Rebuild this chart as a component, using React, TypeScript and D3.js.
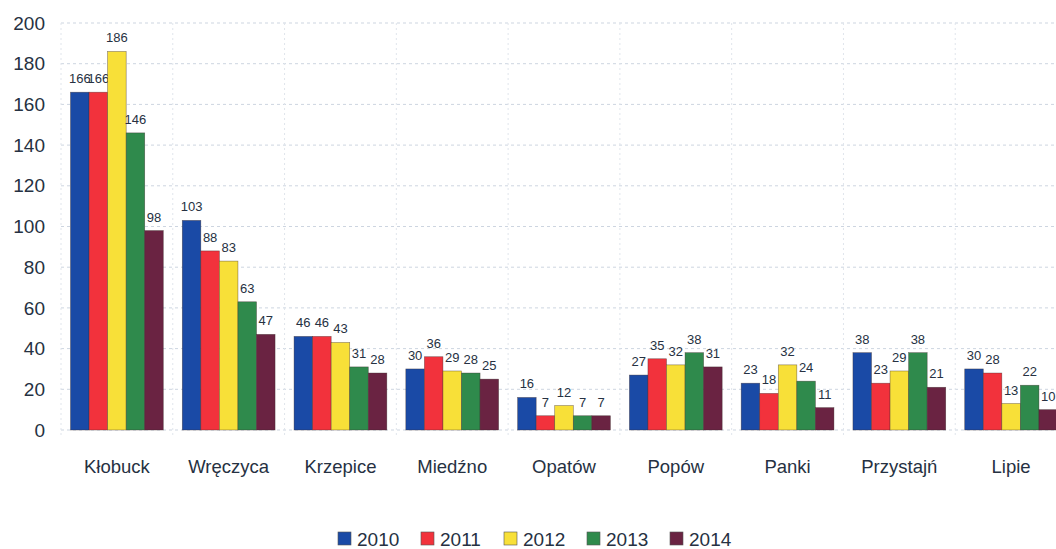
import React from "react";
import * as d3 from "d3";

const categories = ["Kłobuck", "Wręczyca", "Krzepice", "Miedźno", "Opatów", "Popów", "Panki", "Przystajń", "Lipie"];
const seriesNames = ["2010", "2011", "2012", "2013", "2014"];
const v2010 = [166, 103, 46, 30, 16, 27, 23, 38, 30];
const v2011 = [166, 88, 46, 36, 7, 35, 18, 23, 28];
const v2012 = [186, 83, 43, 29, 12, 32, 32, 29, 13];
const v2013 = [146, 63, 31, 28, 7, 38, 24, 38, 22];
const v2014 = [98, 47, 28, 25, 7, 31, 11, 21, 10];
const yTicks = [0, 20, 40, 60, 80, 100, 120, 140, 160, 180, 200];

const seriesValues = [v2010, v2011, v2012, v2013, v2014];
const colors = ["#1a4aa6", "#f2323c", "#f8e038", "#2f8a4c", "#6a2342"];

const W = 1056, H = 549;
const left = 61, right = 1067, top = 23, bottom = 430;

export default function App() {
  const x = d3.scaleBand<string>().domain(categories).range([left, right]).paddingInner(0.17).paddingOuter(0.085);
  const xs = d3.scaleBand<string>().domain(seriesNames).range([0, x.bandwidth()]);
  const y = d3.scaleLinear().domain([0, 200]).range([bottom, top]);
  const font = "Arial, 'Liberation Sans', sans-serif";
  const textColor = "#263142";
  const step = x.step();

  return (
    <div style={{ position: "fixed", left: 0, top: 0, width: W, height: H, background: "#fff" }}>
      <svg width={W} height={H} style={{ display: "block" }} fontFamily={font}>
        {yTicks.map((t) => (
          <g key={t}>
            <line x1={left} x2={W} y1={y(t)} y2={y(t)} stroke="#cdd5e0" strokeDasharray="3,3" strokeWidth={1} />
            <text x={45} y={y(t)} dy="0.35em" textAnchor="end" fontSize={19} fill={textColor}>{t}</text>
          </g>
        ))}
        {categories.map((c, i) => (
          <line key={"v" + c} x1={left + i * step} x2={left + i * step} y1={top} y2={bottom + 6} stroke="#e0e5ec" strokeDasharray="2,3" />
        ))}
        {categories.map((c, ci) => (
          <g key={c}>
            {seriesNames.map((s, si) => {
              const v = seriesValues[si][ci];
              const bx = (x(c) as number) + (xs(s) as number);
              return (
                <g key={s}>
                  <rect x={bx} y={y(v)} width={xs.bandwidth()} height={bottom - y(v)} fill={colors[si]} stroke="#3a2a2a" strokeWidth={0.6} strokeOpacity={0.6} />
                  <text x={bx + xs.bandwidth() / 2} y={y(v) - 9} textAnchor="middle" fontSize={13} fill={textColor}>{v}</text>
                </g>
              );
            })}
            <text x={(x(c) as number) + x.bandwidth() / 2} y={467} dy="0.35em" textAnchor="middle" fontSize={18.5} fill={textColor}>{c}</text>
          </g>
        ))}
        {seriesNames.map((s, i) => {
          const lx = 338 + i * 83;
          return (
            <g key={s}>
              <rect x={lx} y={532} width={13} height={13} fill={colors[i]} stroke="#555" strokeWidth={0.6} />
              <text x={lx + 19} y={539} dy="0.35em" fontSize={19} fill={textColor}>{s}</text>
            </g>
          );
        })}
      </svg>
    </div>
  );
}
